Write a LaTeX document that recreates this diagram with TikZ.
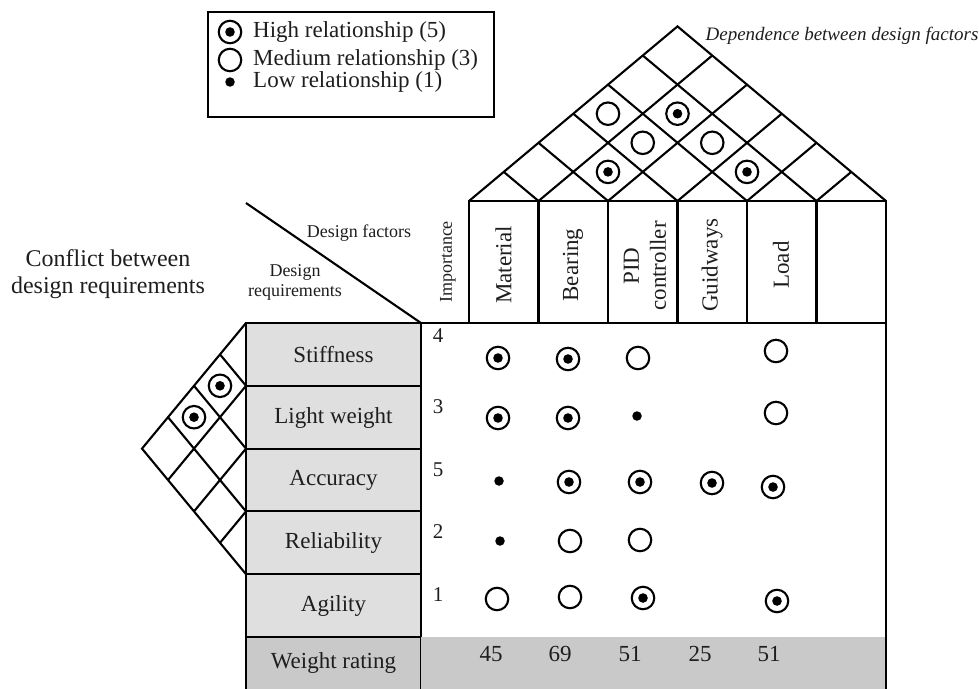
\documentclass[tikz,border=0pt]{standalone}
\usepackage{fontspec}
\setmainfont{Liberation Serif}
\definecolor{rowgray}{RGB}{223,223,223}
\definecolor{rategray}{RGB}{201,201,201}
\definecolor{ink}{RGB}{30,30,30}
\tikzset{
  high/.style={circle,draw,line width=2.1pt,minimum size=22.5pt,inner sep=0pt,
    path picture={\fill (path picture bounding box.center) circle (4.8pt);}},
  medium/.style={circle,draw,line width=2.1pt,minimum size=22.5pt,inner sep=0pt},
  low/.style={circle,fill,minimum size=9.5pt,inner sep=0pt},
  big/.style={font=\fontsize{23}{27}\selectfont,text=ink,inner sep=0pt},
  small/.style={font=\fontsize{18}{20}\selectfont,text=ink,inner sep=0pt},
  num/.style={font=\fontsize{21}{24}\selectfont,text=ink,inner sep=0pt},
  grid/.style={line width=2.1pt},
  frame/.style={line width=2.8pt},
  rowbox/.style={fill=rowgray,draw,line width=2.8pt},
  ratebox/.style={fill=rategray,draw,line width=2.8pt},
}
\begin{document}
\begin{tikzpicture}[x=1pt,y=-1pt]
  \useasboundingbox (0,0) rectangle (979,688);
  \begin{scope}[shift={(246,323)},x={(-26pt,-31.4pt)},y={(26pt,-31.4pt)}]
    \draw[grid] (0,0) -- (4,0) -- (4,4);
    \draw[grid] (1,1) -- (4,1);
    \draw[grid] (1,1) -- (1,0);
    \draw[grid] (2,2) -- (4,2);
    \draw[grid] (2,2) -- (2,0);
    \draw[grid] (3,3) -- (4,3);
    \draw[grid] (3,3) -- (3,0);
    \node[high] (conf-01) at (1.5,0.5) {};
    \node[high] (conf-02) at (2.5,0.5) {};
  \end{scope}
  \filldraw[rowbox] (246,323) rectangle (421,386);
  \filldraw[rowbox] (246,386) rectangle (421,449);
  \filldraw[rowbox] (246,449) rectangle (421,511);
  \filldraw[rowbox] (246,511) rectangle (421,574);
  \filldraw[rowbox] (246,574) rectangle (421,637);
  \filldraw[ratebox] (246,637) rectangle (421,700);
  \fill[rategray] (421,637) rectangle (886,700);
  \draw[frame] (421,637) -- (421,323) -- (886,323) -- (886,700);
  \draw[frame] (469,323) -- (469,201) -- (886,201) -- (886,323);
  \draw[frame] (538.5,201) -- (538.5,323);
  \draw[frame] (608,201) -- (608,323);
  \draw[frame] (677.5,201) -- (677.5,323);
  \draw[frame] (747,201) -- (747,323);
  \draw[frame] (816.5,201) -- (816.5,323);
  \begin{scope}[shift={(469,201)},x={(34.75pt,29.1pt)},y={(34.75pt,-29.1pt)}]
    \draw[grid] (0,0) -- (6,0) -- (6,6);
    \draw[grid] (1,1) -- (6,1);
    \draw[grid] (1,1) -- (1,0);
    \draw[grid] (2,2) -- (6,2);
    \draw[grid] (2,2) -- (2,0);
    \draw[grid] (3,3) -- (6,3);
    \draw[grid] (3,3) -- (3,0);
    \draw[grid] (4,4) -- (6,4);
    \draw[grid] (4,4) -- (4,0);
    \draw[grid] (5,5) -- (6,5);
    \draw[grid] (5,5) -- (5,0);
    \node[medium] (dep-03) at (3.5,0.5) {};
    \node[high] (dep-14) at (4.5,1.5) {};
    \node[medium] (dep-13) at (3.5,1.5) {};
    \node[medium] (dep-24) at (4.5,2.5) {};
    \node[high] (dep-12) at (2.5,1.5) {};
    \node[high] (dep-34) at (4.5,3.5) {};
  \end{scope}
  \node[font=\itshape\fontsize{19}{22}\selectfont,text=ink,inner sep=0pt] (dep-title) at (842,36) {Dependence between design factors};
  \draw[line width=1.5pt] (208,12) rectangle (494,117);
  \node[high] (key-high) at (230,32) {};
  \node[medium] (key-medium) at (230,60) {};
  \node[low] (key-low) at (230,82) {};
  \node[big,anchor=west] (key-high-text) at (253,32) {High relationship (5)};
  \node[big,anchor=west] (key-medium-text) at (253,60) {Medium relationship (3)};
  \node[big,anchor=west] (key-low-text) at (253,82) {Low relationship (1)};
  \node[font=\fontsize{24}{27}\selectfont,text=ink,align=center] (conflict) at (108,274) {Conflict between\\design requirements};
  \draw[grid] (246,203) -- (421,323);
  \node[small] (factors) at (359,233) {Design factors};
  \node[small,align=center] (requirements) at (295,282) {Design\\requirements};
  \node[small,rotate=90] (importance) at (448,262) {Importance};
  \node[big,rotate=90] (col-material) at (503.5,265) {Material};
  \node[big,rotate=90] (col-bearing) at (573,265) {Bearing};
  \node[big,rotate=90,align=center] (col-pid) at (645,266) {PID\\controller};
  \node[big,rotate=90] (col-guidways) at (712,265) {Guidways};
  \node[big,rotate=90] (col-load) at (781,265) {Load};
  \node[big] (row-stiffness) at (333.5,354.5) {Stiffness};
  \node[big] (row-light) at (333.5,417.5) {Light weight};
  \node[big] (row-accuracy) at (333.5,480) {Accuracy};
  \node[big] (row-reliability) at (333.5,542.5) {Reliability};
  \node[big] (row-agility) at (333.5,605.5) {Agility};
  \node[big] (row-rating) at (333.5,663) {Weight rating};
  \node[num] (imp-stiffness) at (438,336) {4};
  \node[num] (imp-light) at (438,407) {3};
  \node[num] (imp-accuracy) at (438,470) {5};
  \node[num] (imp-reliability) at (438,532) {2};
  \node[num] (imp-agility) at (438,595) {1};
  \node[high] (s-mat) at (498,358) {};
  \node[high] (s-bear) at (568,359) {};
  \node[medium] (s-pid) at (638,358) {};
  \node[medium] (s-load) at (776,351) {};
  \node[high] (l-mat) at (498,418) {};
  \node[high] (l-bear) at (568,418) {};
  \node[low] (l-pid) at (637,416) {};
  \node[medium] (l-load) at (776,413) {};
  \node[low] (a-mat) at (499,481) {};
  \node[high] (a-bear) at (569,482) {};
  \node[high] (a-pid) at (640,482) {};
  \node[high] (a-guid) at (712,483) {};
  \node[high] (a-load) at (773,487) {};
  \node[low] (r-mat) at (500,541) {};
  \node[medium] (r-bear) at (570,541) {};
  \node[medium] (r-pid) at (640,540) {};
  \node[medium] (g-mat) at (497,599) {};
  \node[medium] (g-bear) at (570,597) {};
  \node[high] (g-pid) at (643,598) {};
  \node[high] (g-load) at (777,601) {};
  \node[big] (w-mat) at (491,654) {45};
  \node[big] (w-bear) at (560,654) {69};
  \node[big] (w-pid) at (630,654) {51};
  \node[big] (w-guid) at (700,654) {25};
  \node[big] (w-load) at (769,654) {51};
\end{tikzpicture}
\end{document}
